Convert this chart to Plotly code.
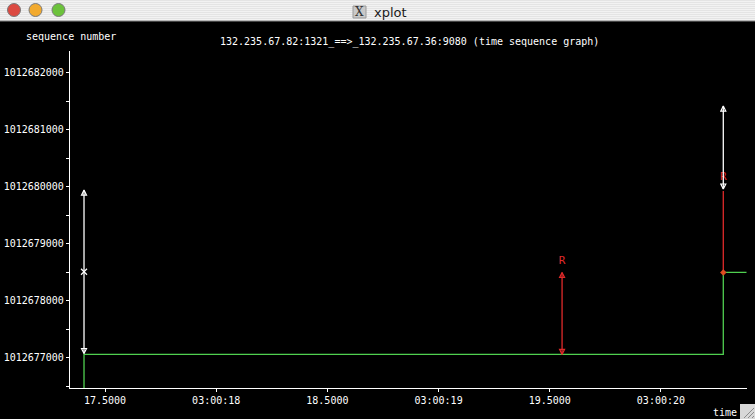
import plotly.graph_objects as go

# ---------------- data ----------------
# time in seconds of 03:00:xx, sequence numbers
seg_times = [17.4055, 20.2804]            # white: segments sent
seg_start = [1012677075, 1012679960]
seg_end = [1012679940, 1012681415]
seg_mark_time = [17.4055]                 # white "x" marker
seg_mark_seq = [1012678508]

rtx_times = [19.5554, 20.2804]            # red: retransmissions
rtx_start = [1012677060, 1012678496]
rtx_end = [1012678496, 1012679925]
rtx_label_seq = [1012678700, 1012680158]
rtx_labels = ["R", "R"]

ack_times = [17.4055, 17.4055, 20.2804, 20.2804, 20.3857]   # green: ack line
ack_seq = [1012676470, 1012677060, 1012677060, 1012678496, 1012678496]

x_tickvals = [17.5, 18.0, 18.5, 19.0, 19.5, 20.0]
x_ticktext = ["17.5000", "03:00:18", "18.5000", "03:00:19", "19.5000", "03:00:20"]
y_tickvals = [1012677000, 1012678000, 1012679000, 1012680000, 1012681000, 1012682000]
y_ticktext = [str(v) for v in y_tickvals]
y_minor = [1012676500, 1012677500, 1012678500, 1012679500, 1012680500, 1012681500]

x_range = [17.3425, 20.3857]
y_range = [1012676470, 1012682380]

title_text = "132.235.67.82:1321_==>_132.235.67.36:9080 (time sequence graph)"

# ---------------- figure ----------------
W, H = 755, 419
MONO = "DejaVu Sans Mono"
WHITE = "#ffffff"
RED = "#e02a2a"
GREEN = "#50d050"
LW = 1.3


def px(x):
    return x / W


def py(y):
    return 1 - y / H


def vsegs(times, a, b):
    xs, ys = [], []
    for t, s, e in zip(times, a, b):
        xs += [t, t, None]
        ys += [s, e, None]
    return xs, ys


fig = go.Figure()

# ack line
fig.add_trace(go.Scatter(x=ack_times, y=ack_seq, mode="lines",
                         line=dict(color=GREEN, width=LW), hoverinfo="skip"))

# R labels (below the white segments)
fig.add_trace(go.Scatter(x=rtx_times, y=rtx_label_seq, mode="text", text=rtx_labels,
                         textfont=dict(family=MONO, size=11, color=RED),
                         textposition="middle center", hoverinfo="skip"))

# retransmissions
rx, ry = vsegs(rtx_times, rtx_start, rtx_end)
fig.add_trace(go.Scatter(x=rx, y=ry, mode="lines",
                         line=dict(color=RED, width=LW), hoverinfo="skip"))
fig.add_trace(go.Scatter(x=rtx_times[:1], y=rtx_end[:1], mode="markers",
                         marker=dict(symbol="arrow-up-open", size=5, color=RED,
                                     line=dict(color=RED, width=1.2)), hoverinfo="skip"))
fig.add_trace(go.Scatter(x=rtx_times[:1], y=rtx_start[:1], mode="markers",
                         marker=dict(symbol="arrow-down-open", size=5, color=RED,
                                     line=dict(color=RED, width=1.2)), hoverinfo="skip"))
fig.add_trace(go.Scatter(x=rtx_times[1:], y=rtx_start[1:], mode="markers",
                         marker=dict(symbol="diamond", size=5, color="#e04a20",
                                     line=dict(width=0)), hoverinfo="skip"))

# segments sent
sx, sy = vsegs(seg_times, seg_start, seg_end)
fig.add_trace(go.Scatter(x=sx, y=sy, mode="lines",
                         line=dict(color=WHITE, width=LW), hoverinfo="skip"))
fig.add_trace(go.Scatter(x=seg_times, y=seg_end, mode="markers",
                         marker=dict(symbol="arrow-up-open", size=5, color=WHITE,
                                     line=dict(color=WHITE, width=1.2)), hoverinfo="skip"))
fig.add_trace(go.Scatter(x=seg_times, y=seg_start, mode="markers",
                         marker=dict(symbol="arrow-down-open", size=5, color=WHITE,
                                     line=dict(color=WHITE, width=1.2)), hoverinfo="skip"))
fig.add_trace(go.Scatter(x=seg_mark_time, y=seg_mark_seq, mode="markers",
                         marker=dict(symbol="x-thin-open", size=6, color=WHITE,
                                     line=dict(color=WHITE, width=1.2)), hoverinfo="skip"))

axis_font = dict(family=MONO, size=10, color=WHITE)

fig.update_layout(
    width=W, height=H,
    margin=dict(l=0, r=0, t=0, b=0),
    paper_bgcolor="black", plot_bgcolor="black",
    showlegend=False,
    xaxis=dict(domain=[px(70), px(746.7)], range=x_range,
               showline=True, linecolor=WHITE, linewidth=LW,
               ticks="outside", ticklen=3, tickcolor=WHITE, tickwidth=1.2,
               tickmode="array", tickvals=x_tickvals, ticktext=x_ticktext,
               tickfont=axis_font, showgrid=False, zeroline=False),
    yaxis=dict(domain=[py(388), py(51)], range=y_range,
               showline=True, linecolor=WHITE, linewidth=LW,
               ticks="outside", ticklen=3, tickcolor=WHITE, tickwidth=1.2,
               tickmode="array", tickvals=y_tickvals, ticktext=y_ticktext,
               tickfont=axis_font, showgrid=False, zeroline=False,
               minor=dict(tickmode="array", tickvals=y_minor, ticks="outside",
                          ticklen=3, tickcolor=WHITE, tickwidth=1.2, showgrid=False)),
)

shapes = []
# window title bar
shapes.append(dict(type="rect", xref="paper", yref="paper", x0=0, x1=1, y0=py(21), y1=1,
                   fillcolor="#e4e4e4", line=dict(width=0), layer="above"))
for yy in range(1, 21, 2):
    shapes.append(dict(type="line", xref="paper", yref="paper", x0=0, x1=1,
                       y0=py(yy + 0.5), y1=py(yy + 0.5),
                       line=dict(color="#f2f2f2", width=1), layer="above"))
shapes.append(dict(type="line", xref="paper", yref="paper", x0=0, x1=1,
                   y0=py(21), y1=py(21), line=dict(color="#8a8a8a", width=1), layer="above"))
for cx, col in [(14, "#dc4a42"), (35.5, "#f2aa2e"), (58.5, "#6cc23c")]:
    shapes.append(dict(type="circle", xref="paper", yref="paper",
                       x0=px(cx - 6.5), x1=px(cx + 6.5), y0=py(16.5), y1=py(3.5),
                       fillcolor=col, line=dict(color="#7a7a7a", width=1), layer="above"))
# X icon box
shapes.append(dict(type="rect", xref="paper", yref="paper", x0=px(353), x1=px(366),
                   y0=py(18), y1=py(6), fillcolor="#c9c9c9",
                   line=dict(color="#9a9a9a", width=1), layer="above"))
# resize grip
shapes.append(dict(type="rect", xref="paper", yref="paper", x0=px(740), x1=1,
                   y0=0, y1=py(404), fillcolor="#d8d8d8", line=dict(width=0), layer="above"))
for k in (0, 4, 8):
    shapes.append(dict(type="line", xref="paper", yref="paper",
                       x0=px(744 + k), x1=px(754), y0=py(418), y1=py(408 + k),
                       line=dict(color="#8c8c8c", width=1), layer="above"))
fig.update_layout(shapes=shapes)

fig.add_annotation(text="X", xref="paper", yref="paper", x=px(359.5), y=py(12),
                   showarrow=False, font=dict(family="DejaVu Serif", size=12, color="#333333"),
                   xanchor="center", yanchor="middle")
fig.add_annotation(text="xplot", xref="paper", yref="paper", x=px(372), y=py(12),
                   showarrow=False, font=dict(family="DejaVu Sans", size=13, color="#1a1a1a"),
                   xanchor="left", yanchor="middle")
fig.add_annotation(text="sequence number", xref="paper", yref="paper", x=px(24), y=py(36),
                   showarrow=False, font=axis_font, xanchor="left", yanchor="middle")
fig.add_annotation(text=title_text, xref="paper", yref="paper", x=px(218), y=py(42),
                   showarrow=False, font=axis_font, xanchor="left", yanchor="middle")
fig.add_annotation(text="time", xref="paper", yref="paper", x=px(739), y=py(412),
                   showarrow=False, font=axis_font, xanchor="right", yanchor="middle")

fig.write_html("out.html")
